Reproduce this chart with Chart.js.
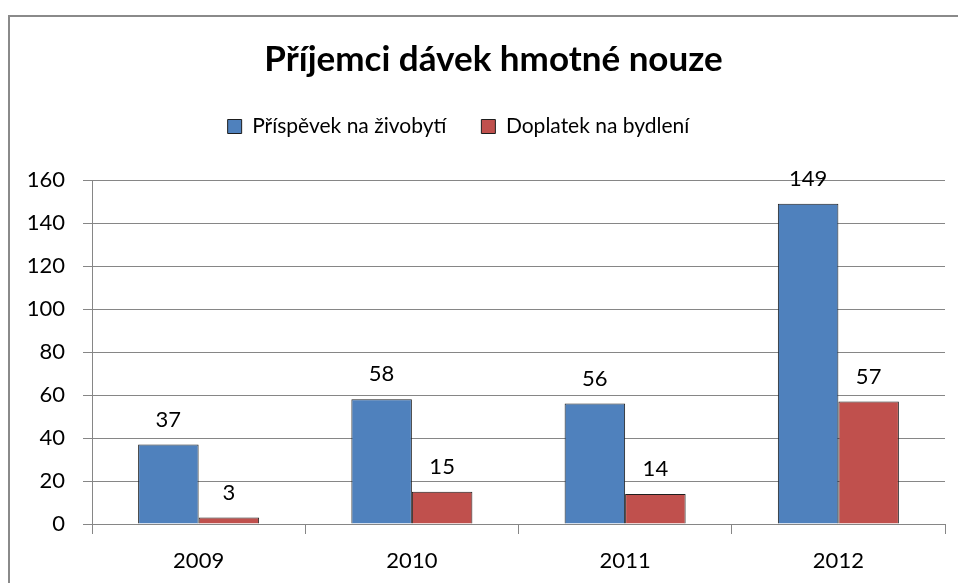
<!DOCTYPE html>
<html lang="cs">
<head>
<meta charset="UTF-8">
<title>Příjemci dávek hmotné nouze</title>
<script src="https://cdn.jsdelivr.net/npm/chart.js"></script>
<style>
  html, body { margin: 0; padding: 0; background: #fff; }
  body { width: 958px; height: 583px; overflow: hidden; position: relative; }
  .frame {
    position: absolute; left: 8px; top: 15px; right: -10px; bottom: -10px;
    border-left: 2px solid #8a8a8a; border-top: 2px solid #8a8a8a;
  }
  .wrap { position: absolute; left: 0; top: 0; width: 958px; height: 583px; }
</style>
</head>
<body>
<div class="frame"></div>
<div class="wrap"><canvas id="chart" width="958" height="583"></canvas></div>
<script>
const chartTitle = 'Příjemci dávek hmotné nouze';
const years = ['2009', '2010', '2011', '2012'];
const seriesNames = ['Příspěvek na živobytí', 'Doplatek na bydlení'];
const prispevek = [37, 58, 56, 149];
const doplatek = [3, 15, 14, 57];
const yTicks = [0, 20, 40, 60, 80, 100, 120, 140, 160];

const gridGrey = '#868686';

// value above each bar
const valueLabels = {
  id: 'valueLabels',
  afterDatasetsDraw(chart) {
    const ctx = chart.ctx;
    ctx.save();
    ctx.font = '22px Lato';
    ctx.fillStyle = '#000';
    ctx.textAlign = 'center';
    ctx.textBaseline = 'middle';
    chart.data.datasets.forEach((ds, i) => {
      chart.getDatasetMeta(i).data.forEach((bar, j) => {
        ctx.fillText(ds.data[j], bar.x, bar.y - 25);
      });
    });
    ctx.restore();
  }
};

// extra room under the legend, and nudge title / legend sideways like the original
const boxTweaks = {
  id: 'boxTweaks',
  beforeInit(chart) {
    const fit = chart.legend.fit;
    chart.legend.fit = function () {
      fit.call(this);
      this.height += 33;
    };
  },
  afterLayout(chart) {
    const t = chart.titleBlock;
    t.left += 21; t.right += 21;
    const l = chart.legend;
    l.left -= 14; l.right -= 14;
  }
};

function draw() {
  Chart.defaults.font.family = 'Lato';
  Chart.defaults.color = '#000';

  new Chart(document.getElementById('chart'), {
    type: 'bar',
    data: {
      labels: years,
      datasets: [
        {
          label: seriesNames[0],
          data: prispevek,
          backgroundColor: '#4f81bd',
          borderColor: '#1e1e1e',
          borderWidth: 1,
          categoryPercentage: 0.5675,
          barPercentage: 1
        },
        {
          label: seriesNames[1],
          data: doplatek,
          backgroundColor: '#c0504d',
          borderColor: '#1e1e1e',
          borderWidth: 1,
          categoryPercentage: 0.5675,
          barPercentage: 1
        }
      ]
    },
    options: {
      responsive: false,
      animation: false,
      layout: { padding: { left: 0, right: 13, top: 0, bottom: 0 } },
      plugins: {
        title: {
          display: true,
          text: chartTitle,
          color: '#000',
          font: { size: 35, weight: 'bold' },
          padding: { top: 39, bottom: 0 }
        },
        legend: {
          position: 'top',
          labels: {
            boxWidth: 14,
            boxHeight: 14,
            padding: 35,
            color: '#000',
            font: { size: 21 }
          }
        },
        tooltip: { enabled: false }
      },
      scales: {
        x: {
          grid: { drawOnChartArea: false, drawTicks: true, tickLength: 10, color: gridGrey, offset: true },
          border: { color: gridGrey },
          ticks: { padding: 14, font: { size: 22 }, color: '#000' },
          afterFit(s) { s.height = 59; }
        },
        y: {
          min: yTicks[0],
          max: yTicks[yTicks.length - 1],
          ticks: { stepSize: yTicks[1] - yTicks[0], padding: 18, font: { size: 22 }, color: '#000' },
          grid: { color: gridGrey, tickLength: 9 },
          border: { color: gridGrey },
          afterFit(s) { s.width = 92; }
        }
      }
    },
    plugins: [valueLabels, boxTweaks]
  });
}

Promise.all([
  document.fonts.load('21px Lato'),
  document.fonts.load('22px Lato'),
  document.fonts.load('bold 35px Lato')
]).then(draw, draw);
</script>
</body>
</html>
